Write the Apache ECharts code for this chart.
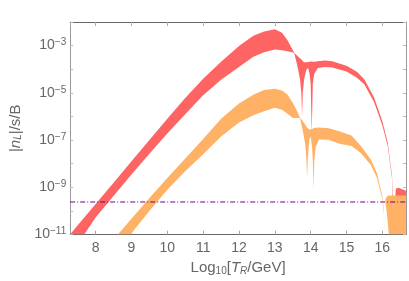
<!DOCTYPE html>
<html>
<head>
<meta charset="utf-8">
<script src="https://cdn.jsdelivr.net/npm/echarts@6/dist/echarts.min.js"></script>
<style>html,body{margin:0;padding:0;background:#fff}#c{width:409px;height:281px}</style>
</head>
<body>
<div id="c"></div>
<script>
// ---- data (y values stored as log10 of |n_L|/s/B) ----
const redX          = [7.20, 7.5, 8.0, 8.5, 9.0, 9.5, 10.0, 10.5, 11.0, 11.5, 12.0, 12.4, 12.7, 13.0, 13.2, 13.35, 13.45, 13.54, 13.62, 13.70, 13.74, 13.76, 13.78, 13.82, 13.88, 13.93, 13.97, 14.00, 14.03, 14.06, 14.10, 14.2, 14.4, 14.6, 15.0, 15.3, 15.5, 15.77, 16.0, 16.15, 16.27, 16.31, 16.33, 16.35, 16.38, 16.45, 16.55, 16.70];
const redUpperLog   = [-11.15, -10.60, -9.70, -8.80, -7.90, -7.00, -6.10, -5.22, -4.40, -3.68, -3.02, -2.58, -2.40, -2.31, -2.45, -2.76, -3.05, -3.30, -3.42, -3.53, -3.58, -3.62, -3.66, -3.70, -3.70, -3.69, -3.68, -3.67, -3.67, -3.68, -3.68, -3.66, -3.63, -3.66, -3.85, -4.12, -4.43, -5.20, -6.20, -7.10, -8.50, -10.0, -12.0, -9.60, -9.05, -9.02, -9.08, -9.16];
const redLowerLog   = [-11.95, -11.40, -10.28, -9.37, -8.46, -7.58, -6.72, -5.90, -5.10, -4.45, -3.90, -3.47, -3.28, -3.16, -3.20, -3.24, -3.27, -3.31, -3.80, -4.40, -5.00, -6.00, -5.00, -4.40, -4.02, -3.95, -4.20, -4.60, -6.70, -4.60, -4.20, -3.95, -3.90, -3.93, -4.10, -4.37, -4.65, -5.40, -6.38, -7.25, -8.62, -12.0, -12.0, -12.0, -9.70, -9.50, -9.45, -9.45];

const orangeX        = [8.40, 8.62, 9.0, 9.5, 10.0, 10.5, 11.0, 11.5, 12.0, 12.4, 12.7, 13.0, 13.2, 13.35, 13.5, 13.6, 13.7, 13.78, 13.85, 13.88, 13.90, 13.92, 13.96, 14.00, 14.04, 14.06, 14.08, 14.10, 14.14, 14.23, 14.5, 14.8, 15.14, 15.4, 15.68, 15.85, 16.0, 16.04, 16.065, 16.09, 16.12, 16.16, 16.20, 16.25, 16.70];
const orangeUpperLog = [-11.40, -11.00, -10.33, -9.45, -8.60, -7.78, -6.95, -6.10, -5.45, -5.08, -4.88, -4.83, -4.90, -5.07, -5.42, -5.70, -6.04, -6.20, -6.35, -6.42, -6.47, -6.50, -6.54, -6.55, -6.53, -6.52, -6.50, -6.49, -6.48, -6.47, -6.50, -6.62, -6.80, -7.25, -7.82, -8.40, -9.38, -9.90, -12.0, -9.50, -9.40, -9.36, -9.35, -9.35, -9.35];
const orangeLowerLog = [-12.05, -11.65, -10.94, -10.00, -9.10, -8.32, -7.60, -6.85, -6.25, -5.95, -5.78, -5.63, -5.72, -5.88, -6.06, -6.06, -6.06, -6.60, -7.20, -7.80, -8.60, -7.80, -7.00, -6.85, -7.30, -7.90, -9.10, -7.90, -7.30, -6.97, -6.98, -7.15, -7.25, -7.55, -8.05, -8.60, -9.50, -10.10, -12.0, -9.70, -10.00, -10.60, -11.40, -12.50, -12.50];

const thresholdValue = 2.4e-10;
const xTickLabels = [8, 9, 10, 11, 12, 13, 14, 15, 16];
const yLabelExponents = [-3, -5, -7, -9, -11];
const xRange = [7.29, 16.66];
const yRange = [1e-11, 1e-2];

// ---- build ----
const RED = '#ff6464', ORANGE = '#ffb266';
function bandSeries(xs, up, lo, color, z) {
  const data = xs.map((x, i) => [x, Math.pow(10, up[i]), Math.pow(10, lo[i])]);
  return {
    type: 'custom', data: data, z: z, silent: true, clip: true,
    encode: { x: 0, y: [1, 2] },
    renderItem: function (params, api) {
      if (params.dataIndex !== 0) return null;
      const pts = [];
      for (let i = 0; i < data.length; i++) pts.push(api.coord([data[i][0], data[i][1]]));
      for (let i = data.length - 1; i >= 0; i--) pts.push(api.coord([data[i][0], data[i][2]]));
      const cs = params.coordSys;
      return {
        type: 'group',
        children: [{ type: 'polygon', shape: { points: pts }, style: { fill: color, stroke: null } }],
        clipPath: { type: 'rect', shape: { x: cs.x, y: cs.y, width: cs.width, height: cs.height } }
      };
    }
  };
}
const FONT = 'Liberation Sans';
const chart = echarts.init(document.getElementById('c'), null, { renderer: 'canvas' });
chart.setOption({
  animation: false,
  backgroundColor: '#fff',
  grid: { left: 61, right: 3, top: 22, bottom: 46, containLabel: false },
  xAxis: [
    { type: 'value', min: xRange[0], max: xRange[1], splitNumber: 9,
      axisLine: { show: true, lineStyle: { color: '#666', width: 1 } },
      axisTick: { show: true, inside: true, length: 4, lineStyle: { color: '#aaa' } },
      splitLine: { show: false },
      axisLabel: { show: true, color: '#666', fontSize: 14, fontFamily: FONT, margin: 7,
        showMinLabel: false, showMaxLabel: false,
        formatter: v => (xTickLabels.indexOf(Math.round(v * 1000) / 1000) >= 0 ? String(v) : '') },
      name: 'Log{sub|10}[{i|T}{isub|R}/GeV]', nameLocation: 'middle', nameGap: 24,
      nameTextStyle: { color: '#666', fontSize: 15, fontFamily: FONT,
        rich: { sub: { fontSize: 10, fontFamily: FONT, color: '#666', verticalAlign: 'bottom', padding: [6, 0, 0, 0] },
                i: { fontSize: 15, fontStyle: 'italic', fontFamily: FONT, color: '#666' },
                isub: { fontSize: 10, fontStyle: 'italic', fontFamily: FONT, color: '#666', verticalAlign: 'bottom', padding: [6, 0, 0, 0] } } } },
    { type: 'value', position: 'top', min: xRange[0], max: xRange[1], splitNumber: 9,
      axisLine: { show: true, lineStyle: { color: '#666', width: 1 } },
      axisTick: { show: true, inside: true, length: 4, lineStyle: { color: '#aaa' } },
      axisLabel: { show: false }, splitLine: { show: false } }
  ],
  yAxis: [
    { type: 'log', logBase: 10, min: yRange[0], max: yRange[1], interval: 1,
      axisLine: { show: true, lineStyle: { color: '#999', width: 1 } },
      axisTick: { show: true, inside: true, length: 3, lineStyle: { color: '#bbb' } },
      splitLine: { show: false }, minorTick: { show: false },
      axisLabel: { show: true, color: '#666', margin: 4, fontFamily: FONT,
        formatter: v => {
          const e = Math.round(Math.log10(v));
          return yLabelExponents.indexOf(e) >= 0 ? '{b|10}{s|' + '\u2212' + Math.abs(e) + '}' : '';
        },
        rich: { b: { fontSize: 14, fontFamily: FONT, color: '#666', lineHeight: 16 },
                s: { fontSize: 10, fontFamily: FONT, color: '#666', verticalAlign: 'top', lineHeight: 10 } } },
      name: '|{i|n}{isub|L}|/s/B', nameLocation: 'middle', nameGap: 42, nameRotate: 90,
      nameTextStyle: { color: '#666', fontSize: 15, fontFamily: FONT,
        rich: { i: { fontSize: 15, fontStyle: 'italic', fontFamily: FONT, color: '#666' },
                isub: { fontSize: 10, fontStyle: 'italic', fontFamily: FONT, color: '#666', verticalAlign: 'bottom', padding: [6, 0, 0, 0] } } } },
    { type: 'log', logBase: 10, position: 'right', min: yRange[0], max: yRange[1], interval: 1,
      axisLine: { show: true, lineStyle: { color: '#999', width: 1 } },
      axisTick: { show: true, inside: true, length: 3, lineStyle: { color: '#bbb' } },
      axisLabel: { show: false }, splitLine: { show: false } }
  ],
  series: [
    bandSeries(redX, redUpperLog, redLowerLog, RED, 2),
    bandSeries(orangeX, orangeUpperLog, orangeLowerLog, ORANGE, 3),
    { type: 'line', data: [[xRange[0], thresholdValue], [xRange[1], thresholdValue]], symbol: 'none', silent: true,
      z: 5, lineStyle: { color: '#70008a', width: 1, type: [5, 2, 1, 2] } }
  ]
});
</script>
</body>
</html>
